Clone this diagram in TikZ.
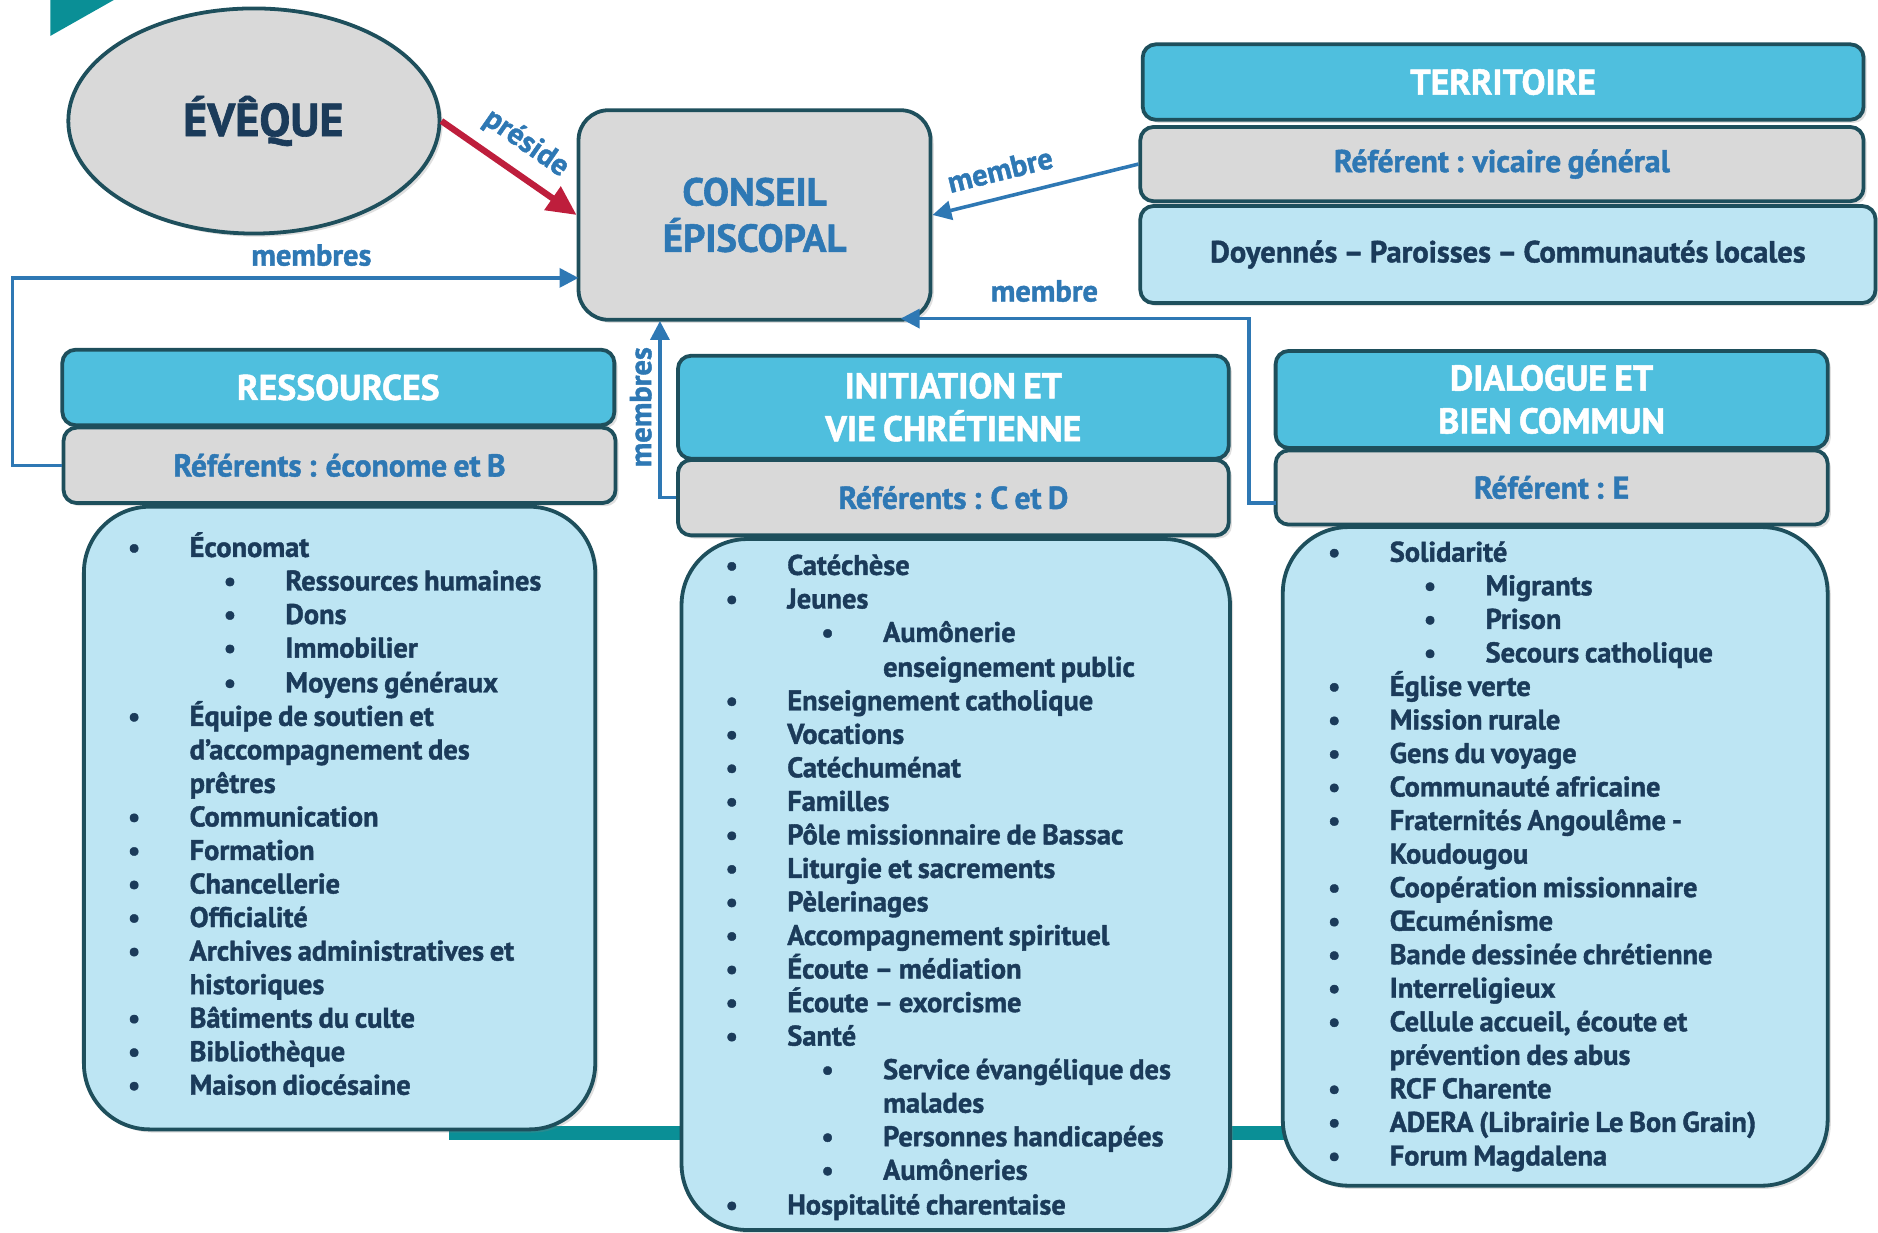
\documentclass[tikz,border=0pt]{standalone}
\usepackage{fontspec}
\setmainfont{PT Sans}[BoldFont={PT Sans Bold}, BoldFeatures={FakeBold=1.4}, WordSpace=0.8]
\usetikzlibrary{shapes.geometric,arrows.meta,shadows}

\definecolor{edge}{HTML}{1E4F5C}
\definecolor{headblue}{HTML}{4FBFDE}
\definecolor{boxgray}{HTML}{D9D9D9}
\definecolor{lightblue}{HTML}{BDE5F3}
\definecolor{refblue}{HTML}{2E78B4}
\definecolor{navy}{HTML}{1B3B5A}
\definecolor{redarrow}{HTML}{BE1E3C}
\definecolor{tealbar}{HTML}{0A8F96}

\tikzset{
  box/.style={draw=edge, line width=1.8pt, rounded corners=0.22cm, align=center,
    font=\bfseries\fontsize{17}{20.4}\selectfont,
    drop shadow={shadow xshift=1.5pt, shadow yshift=-1.5pt, opacity=0.25}},
  head/.style={box, fill=headblue, text=white},
  ref/.style={box, fill=boxgray, text=refblue, font=\bfseries\fontsize{15}{18}\selectfont},
  lst/.style={box, fill=lightblue, rounded corners=1.1cm},
  itm/.style={anchor=base west, inner sep=0pt, text=navy, font=\bfseries\fontsize{13.5}{16}\selectfont},
  bul/.style={anchor=base, inner sep=0pt, text=navy, font=\bfseries\fontsize{13}{16}\selectfont},
  lbl/.style={text=refblue, font=\bfseries\fontsize{14.5}{16}\selectfont, inner sep=1pt},
  link/.style={draw=refblue, line width=1.7pt, -{Triangle[length=9pt,width=9pt]}},
}

\begin{document}
\begin{tikzpicture}[x=0.02cm,y=-0.02cm]
  \useasboundingbox (0,0) rectangle (1568,1029);
  \fill[tealbar] (42,0) -- (95,0) -- (42,30) -- cycle;
  \fill[tealbar] (375,940) rectangle (1080,952);

  \node[ellipse, draw=edge, line width=1.8pt, fill=boxgray, minimum width=6.2cm, minimum height=3.76cm,
    text=navy, font=\bfseries\fontsize{22}{24}\selectfont,
    drop shadow={shadow xshift=1.5pt, shadow yshift=-1.5pt, opacity=0.25}] (evq) at (212,101) {\hspace*{9pt}ÉVÊQUE};
  \node[box, fill=boxgray, text=refblue, rounded corners=0.5cm, minimum width=5.88cm, minimum height=3.5cm,
    font=\bfseries\fontsize{18.5}{22}\selectfont] (cons) at (630,179.5) {CONSEIL\\ÉPISCOPAL};

  \node[head, minimum width=12.04cm, minimum height=1.26cm] (terH) at (1255,68.5) {TERRITOIRE};
  \node[ref, minimum width=12.08cm, minimum height=1.24cm] (terR) at (1254,137) {Référent : vicaire général};
  \node[box, fill=lightblue, text=navy, minimum width=12.28cm, minimum height=1.62cm,
    font=\bfseries\fontsize{14.5}{17}\selectfont] (terC) at (1259,212.5) {Doyennés – Paroisses – Communautés locales};

  \node[head, minimum width=9.22cm, minimum height=1.26cm] (resH) at (282.5,323.5) {RESSOURCES};
  \node[ref, minimum width=9.22cm, minimum height=1.26cm] (resR) at (283.5,388.5) {Référents : économe et B};
  \node[lst, minimum width=8.54cm, minimum height=10.4cm] (resL) at (283.5,683) {};

  \node[head, minimum width=9.2cm, minimum height=1.72cm] (iniH) at (796,340) {INITIATION ET\\VIE CHRÉTIENNE};
  \node[ref, minimum width=9.2cm, minimum height=1.26cm] (iniR) at (796,415.5) {Référents : C et D};
  \node[lst, minimum width=9.16cm, minimum height=11.54cm] (iniL) at (798,738.5) {};

  \node[head, minimum width=9.22cm, minimum height=1.62cm] (diaH) at (1295.5,333.5) {DIALOGUE ET\\BIEN COMMUN};
  \node[ref, minimum width=9.22cm, minimum height=1.24cm] (diaR) at (1295.5,407) {Référent : E};
  \node[lst, minimum width=9.1cm, minimum height=11cm] (diaL) at (1298.5,715) {};

  \foreach \y/\l/\t [count=\i] in {458/0/Économat, 486/1/Ressources humaines, 514/1/Dons,
      542/1/Immobilier, 571/1/Moyens généraux, 599/0/Équipe de soutien et,
      627/2/d’accompagnement des, 655/2/prêtres, 683/0/Communication, 711/0/Formation,
      739/0/Chancellerie, 767/0/Officialité, 795/0/Archives administratives et,
      823/2/historiques, 851/0/Bâtiments du culte, 879/0/Bibliothèque, 907/0/Maison diocésaine} {
    \pgfmathsetmacro\tx{158+80*mod(\l,2)}
    \node[itm] (res\i) at (\tx,\y+7) {\t};
    \ifnum\l<2 \node[bul] (resb\i) at (112+80*\l,\y+7) {\textbullet};\fi
  }

  \foreach \y/\l/\t [count=\i] in {473/0/Catéchèse, 501/0/Jeunes, 529/1/Aumônerie,
      558/3/enseignement public, 586/0/Enseignement catholique, 614/0/Vocations,
      642/0/Catéchuménat, 670/0/Familles, 698/0/Pôle missionnaire de Bassac,
      726/0/Liturgie et sacrements, 754/0/Pèlerinages, 782/0/Accompagnement spirituel,
      810/0/Écoute – médiation, 838/0/Écoute – exorcisme, 866/0/Santé,
      894/1/Service évangélique des, 922/3/malades, 950/1/Personnes handicapées,
      978/1/Aumôneries, 1007/0/Hospitalité charentaise} {
    \pgfmathsetmacro\tx{657+80*mod(\l,2)}
    \node[itm] (ini\i) at (\tx,\y+7) {\t};
    \ifnum\l<2 \node[bul] (inib\i) at (611+80*\l,\y+7) {\textbullet};\fi
  }

  \foreach \y/\l/\t [count=\i] in {462/0/Solidarité, 490/1/Migrants, 518/1/Prison,
      546/1/Secours catholique, 574/0/Église verte, 602/0/Mission rurale,
      630/0/Gens du voyage, 658/0/Communauté africaine, 686/0/Fraternités Angoulême -,
      714/2/Koudougou, 742/0/Coopération missionnaire, 770/0/Œcuménisme,
      798/0/Bande dessinée chrétienne, 826/0/Interreligieux,
      854/0/{Cellule accueil, écoute et}, 882/2/prévention des abus, 910/0/RCF Charente,
      938/0/ADERA (Librairie Le Bon Grain), 966/0/Forum Magdalena} {
    \pgfmathsetmacro\tx{1160+80*mod(\l,2)}
    \node[itm] (dia\i) at (\tx,\y+7) {\t};
    \ifnum\l<2 \node[bul] (diab\i) at (1114+80*\l,\y+7) {\textbullet};\fi
  }

  \coordinate (c1) at (483,232);
  \coordinate (c2) at (752,266);
  \coordinate (c3) at (551,268);
  \coordinate (d1) at (1065,420);

  \draw[redarrow, line width=3pt, -{Triangle[length=14pt,width=13pt]}] (evq.east) -- node[lbl, sloped, above=5pt] (lbp) {préside} (cons.west);
  \draw[link] (resR.west) -- ++(-41,0) |- (c1);
  \node[lbl] (lbm1) at (260,213) {membres};
  \draw[link] (terR.west) -- node[lbl, sloped, above=6pt, pos=0.64] (lbm2) {membre} (cons.east);
  \draw[link] (d1) -- ++(-22,0) |- (c2);
  \node[lbl] (lbm3) at (872,243) {membre};
  \draw[link] (iniR.west) -| (c3);
  \node[lbl, rotate=90] (lbm4) at (535,340) {membres};
\end{tikzpicture}
\end{document}
